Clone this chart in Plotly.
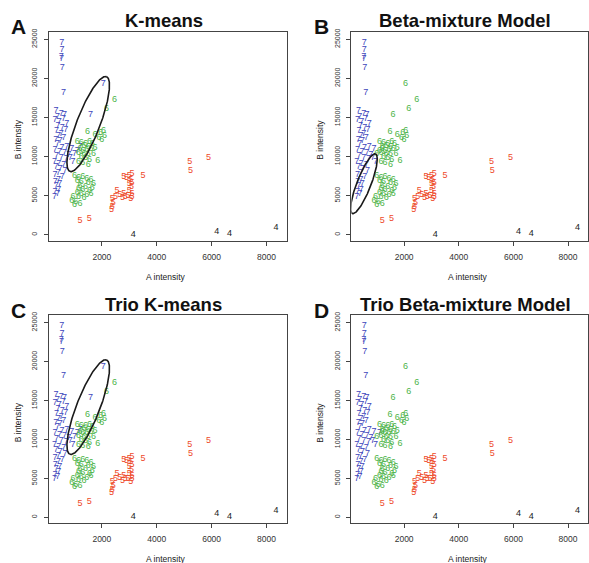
import numpy as np
import plotly.graph_objects as go

# ---------------- data (A intensity, B intensity) ----------------
# cluster "7" : upper sparse points
top7_x = [540, 545, 520, 530, 560, 600]
top7_y = [24600, 23600, 22800, 22500, 21300, 18200]

# cluster "7" : dense column
col7_x = [330, 520, 640, 380, 600, 290, 450, 720, 400, 560, 680, 350, 520, 420, 610,
          320, 480, 380, 720, 550, 290, 460, 640, 790, 350, 520, 700, 270, 430, 610,
          330, 480, 660, 410, 290, 560, 420, 300, 470, 340, 430, 290, 390, 270]
col7_y = [15800, 15500, 15300, 15100, 14800, 14700, 14400, 14200, 13900, 13700, 13400,
          13300, 12900, 12700, 12400, 12200, 12000, 11600, 11300, 11100, 10900, 10600,
          10500, 10200, 10100, 9800, 9700, 9300, 9100, 8900, 8700, 8400, 8200, 7900,
          7700, 7400, 7100, 6800, 6500, 6300, 5800, 5500, 5200, 4900]

# points whose cluster differs between methods
swap_x = [2050, 1590, 900, 1100, 1000, 1200, 850, 950]
swap_y = [19300, 15300, 11000, 10800, 10300, 11200, 9800, 9300]
swap_kmeans = ["7", "7", "7", "7", "7", "7", "7", "7"]
swap_beta = ["6", "6", "7", "6", "6", "6", "7", "7"]
swap_trio_kmeans = ["7", "7", "7", "7", "7", "7", "7", "7"]
swap_trio_beta = ["6", "6", "7", "7", "6", "6", "7", "7"]

# cluster "6"
grp6_x = [2460, 2170, 1480, 1950, 2060, 2100, 1900, 2000, 1750,
          1100, 1250, 1400, 1550, 1650, 1350, 1500, 1200, 1300, 1450, 1600, 1750,
          1150, 1350, 1500, 1700, 1250, 1400, 1550, 1850, 1300, 1500, 1150,
          1000, 1150, 1300, 1450, 1600, 1100, 1250, 1500, 1700, 1200, 1400, 1650,
          1150, 1300, 1550, 1100, 1250, 1450, 1600, 950, 1150, 1350, 900, 1050, 1200, 1000]
grp6_y = [17250, 16150, 13200, 13100, 13300, 12700, 12400, 12200, 12800,
          11900, 11800, 11700, 11900, 11600, 11400, 11300, 11000, 10800, 10900, 11000, 11100,
          10500, 10400, 10300, 10400, 10000, 9800, 9600, 9500, 9200, 9000, 9300,
          7500, 7300, 7400, 7200, 7000, 6900, 6800, 6600, 6500, 6300, 6200, 6000,
          5900, 5700, 5600, 5400, 5200, 5100, 5300, 4900, 4800, 4700, 4400, 4200, 4000, 3900]

# cluster "5"
grp5_x = [1200, 1540, 2350, 2380, 2420, 2380, 2500, 2550, 2650, 2750, 2800, 2850, 2950,
          3050, 3100, 3100, 3000, 3080, 3000, 3100, 2900, 3000, 3100, 2800, 3050, 3500,
          5200, 5230, 5890]
grp5_y = [1750, 2000, 3200, 3600, 4100, 4600, 4900, 5600, 5100, 4700, 5300, 4900, 5000,
          4600, 4900, 5300, 5600, 6100, 6500, 6700, 7300, 7500, 7800, 7400, 7100, 7500,
          9300, 8200, 9800]

# cluster "4"
grp4_x = [3140, 6190, 6650, 8350]
grp4_y = [50, 400, 100, 900]

# ellipses: centre and two conjugate semi-axis vectors (data units)
ellipse_kmeans = dict(cx=1502, cy=14160, ax=667, ay=6062, bx=396, by=-534)
ellipse_beta = dict(cx=530, cy=6530, ax=424, ay=3817, bx=240, by=-325)

titles = ["K-means", "Beta-mixture Model", "Trio K-means", "Trio Beta-mixture Model"]
letters = ["A", "B", "C", "D"]
x_ticks = [2000, 4000, 6000, 8000]
y_ticks = [0, 5000, 10000, 15000, 20000, 25000]

# ---------------- styling ----------------
colors = {"7": "#3d45bb", "6": "#4cb447", "5": "#ee4a2a", "4": "#1a1a1a"}
FONT = "Liberation Sans, Arial, Helvetica, sans-serif"
W, H = 589, 563

panels = [
    dict(labels=swap_kmeans, ellipse=ellipse_kmeans, px=(49, 287), py=(29, 239)),
    dict(labels=swap_beta, ellipse=ellipse_beta, px=(352, 589), py=(29, 239)),
    dict(labels=swap_trio_kmeans, ellipse=ellipse_kmeans, px=(49, 287), py=(314, 523)),
    dict(labels=swap_trio_beta, ellipse=None, px=(352, 589), py=(314, 523)),
]

fig = go.Figure()
layout = dict(width=W, height=H, margin=dict(l=0, r=0, t=0, b=0),
              paper_bgcolor="white", plot_bgcolor="white", showlegend=False,
              annotations=[])

for i, p in enumerate(panels):
    k = "" if i == 0 else str(i + 1)
    xa, ya = "x" + k, "y" + k
    # gather points per cluster label
    groups = {"7": ([], []), "6": ([], []), "5": ([], []), "4": ([], [])}
    groups["7"][0].extend(top7_x); groups["7"][1].extend(top7_y)
    groups["7"][0].extend(col7_x); groups["7"][1].extend(col7_y)
    for sx, sy, lab in zip(swap_x, swap_y, p["labels"]):
        groups[lab][0].append(sx); groups[lab][1].append(sy)
    groups["6"][0].extend(grp6_x); groups["6"][1].extend(grp6_y)
    groups["5"][0].extend(grp5_x); groups["5"][1].extend(grp5_y)
    groups["4"][0].extend(grp4_x); groups["4"][1].extend(grp4_y)

    for lab in ["7", "6", "5", "4"]:
        gx, gy = groups[lab]
        fig.add_trace(go.Scatter(
            x=gx, y=gy, mode="text", text=[lab] * len(gx),
            textposition="middle center",
            textfont=dict(size=9, color=colors[lab], family=FONT),
            xaxis=xa, yaxis=ya, hoverinfo="skip", cliponaxis=False))

    e = p["ellipse"]
    if e is not None:
        t = np.linspace(0, 2 * np.pi, 240)
        ex = e["cx"] + e["ax"] * np.cos(t) + e["bx"] * np.sin(t)
        ey = e["cy"] + e["ay"] * np.cos(t) + e["by"] * np.sin(t)
        fig.add_trace(go.Scatter(x=ex, y=ey, mode="lines",
                                 line=dict(color="#1a1a1a", width=1.6),
                                 xaxis=xa, yaxis=ya, hoverinfo="skip"))

    x0, x1 = p["px"]
    y0, y1 = p["py"]
    axis_common = dict(showline=True, mirror=True, linecolor="#444", linewidth=1,
                       ticks="outside", ticklen=4, tickcolor="#444", tickwidth=1,
                       showgrid=False, zeroline=False)
    layout["xaxis" + k] = dict(axis_common, domain=[x0 / W, x1 / W], range=[70, 8730],
                               tickvals=x_ticks, ticktext=[str(v) for v in x_ticks],
                               tickfont=dict(size=8.5, color="#333", family=FONT),
                               ticklabelstandoff=4, anchor=ya)
    layout["yaxis" + k] = dict(axis_common, domain=[1 - y1 / H, 1 - y0 / H], range=[-760, 25950],
                               tickvals=y_ticks, ticktext=[str(v) for v in y_ticks],
                               tickangle=-90,
                               tickfont=dict(size=7, color="#333", family=FONT),
                               ticklabelstandoff=4, anchor=xa)

    cx_px = (x0 + min(x1, 588)) / 2
    # title
    layout["annotations"].append(dict(
        text="<b>%s</b>" % titles[i], x=(cx_px - 4) / W, y=1 - (y0 - 11) / H,
        xref="paper", yref="paper", showarrow=False, xanchor="center", yanchor="middle",
        font=dict(size=18.5, color="#111", family=FONT)))
    # panel letter
    layout["annotations"].append(dict(
        text="<b>%s</b>" % letters[i], x=(x0 - 30) / W, y=1 - (y0 - 5) / H,
        xref="paper", yref="paper", showarrow=False, xanchor="center", yanchor="middle",
        font=dict(size=21, color="#111", family=FONT)))
    # axis titles
    layout["annotations"].append(dict(
        text="B intensity", x=(x0 - 31) / W, y=1 - ((y0 + y1) / 2 + 3) / H,
        xref="paper", yref="paper", showarrow=False, textangle=-90,
        xanchor="center", yanchor="middle",
        font=dict(size=8.5, color="#222", family=FONT)))
    layout["annotations"].append(dict(
        text="A intensity", x=(cx_px - 2) / W, y=1 - (y1 + 36) / H,
        xref="paper", yref="paper", showarrow=False,
        xanchor="center", yanchor="middle",
        font=dict(size=8.5, color="#222", family=FONT)))

fig.update_layout(**layout)
fig.write_html("out.html", config={"displayModeBar": False},
               post_script="document.body.style.margin='0px';document.body.style.overflow='hidden';")
